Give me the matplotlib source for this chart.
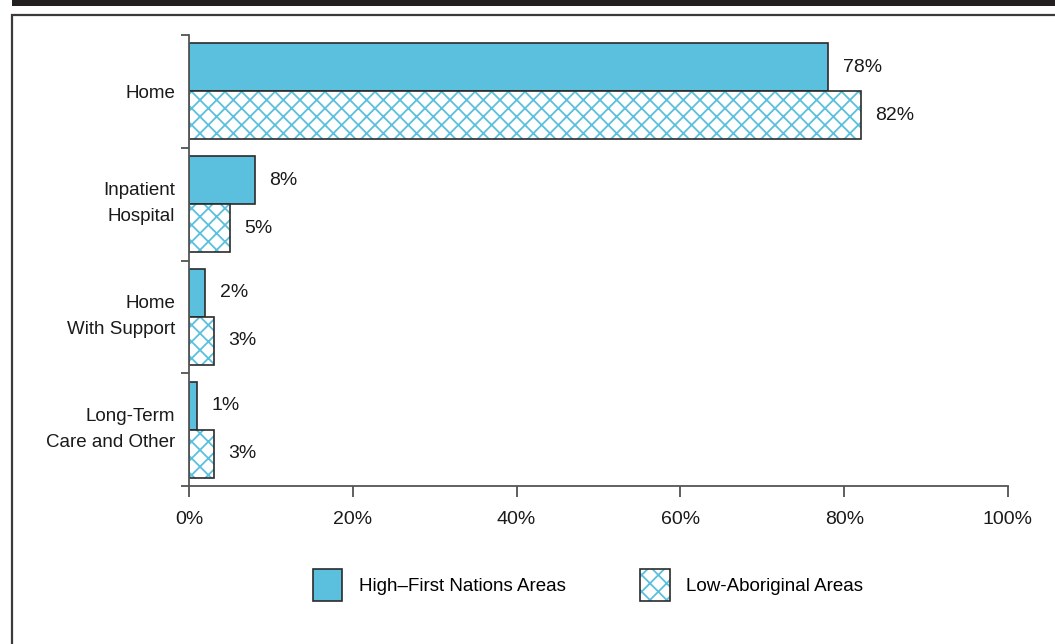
import matplotlib
matplotlib.use("Agg")
import matplotlib.pyplot as plt
from matplotlib.patches import Rectangle, Patch
from matplotlib.legend_handler import HandlerTuple
import numpy as np

plt.rcParams['font.family'] = ['Liberation Sans', 'DejaVu Sans']
plt.rcParams['hatch.linewidth'] = 1.3

categories = ["Home", "Inpatient\nHospital", "Home\nWith Support", "Long-Term\nCare and Other"]
high_fn = [78, 8, 2, 1]
low_ab = [82, 5, 3, 3]
series_names = ["High\u2013First Nations Areas", "Low-Aboriginal Areas"]
xticks = [0, 20, 40, 60, 80, 100]

FS = 13.5
W, H = 1055, 644
fig = plt.figure(figsize=(W / 100, H / 100), dpi=100)

# decorative frame
fig.patches.append(Rectangle((12 / W, 1 - 6 / H), 1, 6 / H, transform=fig.transFigure,
                             facecolor='#231f20', edgecolor='none', zorder=0))
fig.patches.append(Rectangle((11.5 / W, -0.1), 1.2, (H - 14.5) / H + 0.1, transform=fig.transFigure,
                             facecolor='none', edgecolor='#3a3a3a', linewidth=1.6, zorder=0))

ax = fig.add_axes([189 / W, 158 / H, (1008 - 189) / W, (609 - 158) / H])

fill = '#5bc0dd'
edge = '#2b2b2b'
bh = 0.426
centers = np.arange(len(categories)) + 0.5
ax.barh(centers - bh / 2, high_fn, height=bh, color=fill, edgecolor=edge, linewidth=1.2)
ax.barh(centers + bh / 2, low_ab, height=bh, facecolor='white', edgecolor=fill,
        hatch='xx', linewidth=0)
ax.barh(centers + bh / 2, low_ab, height=bh, facecolor='none', edgecolor=edge, linewidth=1.2)

for c, v in zip(centers, high_fn):
    ax.text(v + 1.8, c - bh / 2, f"{v}%", va='center', ha='left', fontsize=FS + 0.5, color='#1a1a1a')
for c, v in zip(centers, low_ab):
    ax.text(v + 1.8, c + bh / 2, f"{v}%", va='center', ha='left', fontsize=FS + 0.5, color='#1a1a1a')

ax.set_xlim(0, 100)
ax.set_ylim(len(categories), 0)
ax.set_xticks(xticks)
ax.set_xticklabels([f"{t}%" for t in xticks], fontsize=FS + 0.5, color='#1a1a1a')
ax.set_yticks(np.arange(len(categories) + 1))
ax.set_yticklabels([])
label_pos = [c - 0.062 * (lab.count("\n")) for c, lab in zip(centers, categories)]
ax.set_yticks(label_pos, minor=True)
ax.set_yticklabels(categories, minor=True, fontsize=FS, color='#1a1a1a', linespacing=1.7)
ax.tick_params(axis='y', which='minor', length=0, pad=10)
ax.tick_params(axis='y', which='major', length=6, width=1.2, color='#444')
ax.tick_params(axis='x', length=8, width=1.2, color='#444', pad=10)
for s in ['top', 'right']:
    ax.spines[s].set_visible(False)
for s in ['left', 'bottom']:
    ax.spines[s].set_color('#555')
    ax.spines[s].set_linewidth(1.3)

h1 = Patch(facecolor=fill, edgecolor=edge, linewidth=1.2)
h2a = Patch(facecolor='white', edgecolor=fill, hatch='xx', linewidth=0)
h2b = Patch(facecolor='none', edgecolor=edge, linewidth=1.2)
leg = fig.legend([h1, (h2a, h2b)], series_names, loc='center', bbox_to_anchor=(588 / W, 1 - 585 / H),
                 ncol=2, frameon=False, fontsize=FS, handlelength=1.55, handleheight=2.25,
                 handletextpad=0.9, columnspacing=4.0,
                 handler_map={tuple: HandlerTuple(ndivide=1, pad=0)})

fig.savefig("out.png", dpi=100)
